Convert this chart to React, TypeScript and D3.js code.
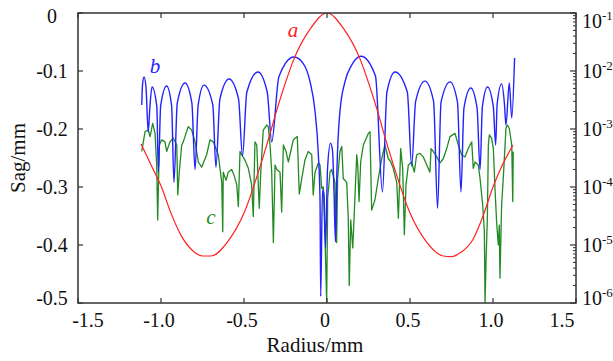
import React from 'react';
import * as d3 from 'd3';

// ---- tick definitions ----
const xTicks = [-1.5, -1, -0.5, 0, 0.5, 1, 1.5];
const xTickLabels = ['-1.5', '-1.0', '-0.5', '0', '0.5', '1.0', '1.5'];
const sagTicks = [0, -0.1, -0.2, -0.3, -0.4, -0.5];
const sagTickLabels = ['0', '-0.1', '-0.2', '-0.3', '-0.4', '-0.5'];
const logTicks = [1e-1, 1e-2, 1e-3, 1e-4, 1e-5, 1e-6];
const logTickExps = ['-1', '-2', '-3', '-4', '-5', '-6'];

// ---- curve a : sag (left axis, mm) ----
const redR = [-1.12, -1.06, -1.0, -0.94, -0.88, -0.8, -0.75, -0.7, -0.6, -0.5, -0.4, -0.35, -0.3, -0.25, -0.2, -0.1, 0, 0.1, 0.2, 0.25, 0.3, 0.35, 0.4, 0.5, 0.6, 0.7, 0.75, 0.8, 0.88, 0.94, 1.0, 1.06, 1.12];
const redSag = [-0.226, -0.262, -0.298, -0.345, -0.383, -0.412, -0.419, -0.419, -0.395, -0.345, -0.262, -0.215, -0.165, -0.12, -0.08, -0.027, 0, -0.027, -0.08, -0.12, -0.165, -0.215, -0.262, -0.345, -0.395, -0.419, -0.42, -0.414, -0.39, -0.35, -0.3, -0.26, -0.228];

// ---- curve b : right (log) axis ----
const blueR = [-1.116, -1.111, -1.102, -1.090, -1.077, -1.067, -1.054, -1.025, -1.016, -1.002, -0.966, -0.936, -0.922, -0.902, -0.855, -0.814, -0.795, -0.776, -0.741, -0.688, -0.669, -0.645, -0.590, -0.533, -0.509, -0.483, -0.416, -0.360, -0.333, -0.290, -0.199, -0.145, -0.102, -0.072, -0.052, -0.042, -0.038, -0.027, -0.018, -0.009, 0.003, 0.021, 0.033, 0.042, 0.051, 0.060, 0.078, 0.108, 0.149, 0.205, 0.292, 0.334, 0.361, 0.410, 0.484, 0.510, 0.534, 0.590, 0.642, 0.666, 0.687, 0.741, 0.786, 0.807, 0.825, 0.866, 0.904, 0.922, 0.936, 0.967, 1.002, 1.016, 1.025, 1.052, 1.069, 1.078, 1.098, 1.113, 1.130];
const blueVal = [2.6e-3, 6.0e-3, 7.9e-3, 5.1e-3, 8.9e-4, 2.4e-3, 5.3e-3, 2.4e-3, 1.8e-4, 2.5e-3, 5.5e-3, 2.5e-3, 1.2e-4, 2.8e-3, 6.2e-3, 2.8e-3, 2.0e-4, 2.6e-3, 5.7e-3, 2.6e-3, 2.2e-4, 3.3e-3, 7.3e-3, 3.3e-3, 3.4e-4, 4.3e-3, 9.6e-3, 4.3e-3, 6.0e-4, 7.9e-3, 1.74e-2, 1.37e-2, 6.5e-3, 2.0e-3, 3.6e-4, 6.0e-5, 1.3e-6, 8.9e-5, 7.3e-5, 8.9e-6, 2.0e-4, 5.7e-4, 4.3e-4, 8.9e-5, 1.13e-5, 2.0e-4, 2.0e-3, 6.5e-3, 1.27e-2, 1.8e-2, 8.2e-3, 8.2e-5, 4.3e-3, 9.6e-3, 4.3e-3, 2.3e-4, 3.0e-3, 6.7e-3, 3.0e-3, 4.3e-5, 2.9e-3, 6.5e-3, 2.9e-3, 8.2e-5, 2.3e-3, 5.1e-3, 2.3e-3, 2.0e-4, 2.4e-3, 5.3e-3, 2.4e-3, 5.3e-4, 2.7e-3, 6.0e-3, 2.7e-3, 1.17e-3, 6.2e-3, 1.55e-3, 1.68e-2];

// ---- curve c : right (log) axis ----
const greenR = [-1.116, -1.096, -1.077, -1.066, -1.050, -1.036, -1.026, -1.020, -1.010, -0.996, -0.976, -0.966, -0.946, -0.926, -0.905, -0.899, -0.890, -0.875, -0.866, -0.836, -0.815, -0.795, -0.775, -0.755, -0.725, -0.705, -0.685, -0.655, -0.634, -0.628, -0.625, -0.608, -0.595, -0.574, -0.560, -0.544, -0.534, -0.524, -0.514, -0.494, -0.474, -0.454, -0.444, -0.434, -0.423, -0.414, -0.408, -0.399, -0.384, -0.363, -0.354, -0.343, -0.333, -0.323, -0.313, -0.303, -0.283, -0.273, -0.263, -0.247, -0.233, -0.223, -0.203, -0.179, -0.167, -0.152, -0.133, -0.113, -0.092, -0.083, -0.072, -0.052, -0.042, -0.032, -0.022, -0.012, -0.002, 0.004, 0.018, 0.028, 0.048, 0.058, 0.064, 0.078, 0.089, 0.098, 0.119, 0.128, 0.134, 0.143, 0.155, 0.163, 0.179, 0.185, 0.193, 0.203, 0.219, 0.249, 0.259, 0.269, 0.289, 0.309, 0.330, 0.349, 0.369, 0.384, 0.399, 0.420, 0.430, 0.444, 0.456, 0.466, 0.476, 0.490, 0.510, 0.526, 0.540, 0.560, 0.580, 0.601, 0.620, 0.627, 0.640, 0.661, 0.681, 0.701, 0.721, 0.741, 0.771, 0.791, 0.811, 0.831, 0.851, 0.872, 0.881, 0.892, 0.911, 0.922, 0.938, 0.948, 0.952, 0.958, 0.966, 0.972, 0.978, 0.992, 1.002, 1.012, 1.022, 1.032, 1.038, 1.042, 1.052, 1.063, 1.078, 1.086, 1.098, 1.113, 1.119, 1.122];
const greenVal = [4.1e-4, 9.0e-4, 9.6e-4, 7.4e-4, 1.25e-3, 8.5e-4, 2.4e-4, 2.7e-5, 5.3e-4, 6.5e-4, 6.0e-4, 4.1e-4, 6.0e-4, 7.0e-4, 5.3e-4, 7.3e-5, 1.8e-4, 5.3e-4, 6.0e-4, 1.10e-3, 9.6e-4, 6.0e-4, 2.7e-4, 2.2e-4, 3.6e-4, 6.5e-4, 6.0e-4, 3.6e-4, 1.2e-4, 1.7e-5, 1.8e-4, 1.3e-4, 1.8e-4, 2.0e-4, 1.6e-4, 1.1e-4, 4.6e-5, 4.1e-4, 3.6e-4, 2.9e-4, 2.1e-4, 1.1e-4, 3.1e-5, 6.0e-4, 5.3e-4, 1.1e-4, 4.3e-5, 1.8e-4, 9.6e-4, 1.17e-3, 1.10e-3, 5.3e-4, 1.8e-4, 1.1e-5, 2.4e-4, 2.0e-4, 1.8e-4, 3.7e-5, 5.3e-4, 4.1e-4, 2.7e-4, 3.6e-4, 6.5e-4, 7.4e-4, 7.6e-5, 1.4e-4, 2.9e-4, 4.1e-4, 3.6e-4, 7.3e-5, 1.8e-4, 2.6e-4, 2.4e-4, 9.5e-5, 1.0e-4, 1.3e-5, 1.04e-6, 6.4e-5, 1.8e-4, 2.0e-4, 1.2e-4, 1.1e-5, 1.4e-4, 4.1e-4, 5.0e-4, 1.4e-4, 1.2e-4, 2.9e-5, 2.0e-6, 2.7e-5, 8.9e-6, 2.9e-5, 3.6e-4, 2.4e-4, 5.6e-5, 2.7e-4, 5.3e-4, 8.4e-4, 9.0e-4, 4.0e-5, 6.0e-5, 1.4e-4, 3.1e-4, 5.3e-4, 3.1e-4, 2.7e-4, 2.1e-4, 1.2e-4, 2.9e-5, 4.6e-4, 2.1e-4, 1.5e-5, 1.1e-4, 2.4e-4, 2.7e-4, 1.8e-4, 3.6e-4, 3.8e-4, 3.3e-4, 2.4e-4, 1.8e-4, 4.6e-4, 4.1e-4, 3.3e-4, 2.6e-4, 3.1e-4, 4.6e-4, 7.4e-4, 8.4e-4, 5.3e-4, 3.6e-4, 3.3e-4, 4.6e-4, 6.0e-4, 2.1e-4, 2.7e-4, 2.4e-4, 1.4e-4, 4.9e-5, 1.7e-5, 1.0e-6, 5.2e-6, 2.9e-5, 5.3e-4, 7.9e-4, 6.9e-4, 4.6e-4, 9.5e-5, 2.4e-5, 1.0e-5, 2.2e-5, 2.7e-6, 4.9e-5, 1.6e-4, 1.03e-3, 1.17e-3, 1.03e-3, 5.3e-4, 5.6e-5, 4.1e-4];

const W = 613;
const H = 361;
const M = { left: 78, right: 576, top: 13, bottom: 303 };
const FONT = "'Liberation Serif', 'DejaVu Serif', serif";
const AXIS = '#333333';
const RED = '#ff2020';
const BLUE = '#2222ff';
const GREEN = '#228a22';
const TXT = { fontFamily: FONT };

export default function App() {
  const x = d3.scaleLinear().domain([-1.5, 1.5]).range([M.left, M.right]);
  const yL = d3.scaleLinear().domain([-0.5, 0]).range([M.bottom, M.top]);
  const yR = d3.scaleLog().domain([1e-6, 1e-1]).range([M.bottom, M.top]);

  const redPts = redR.map((r, i) => [r, redSag[i]] as [number, number]);
  const bluePts = blueR.map((r, i) => [r, blueVal[i]] as [number, number]);
  const greenPts = greenR.map((r, i) => [r, greenVal[i]] as [number, number]);

  const redLine = d3.line<[number, number]>().x(d => x(d[0])).y(d => yL(d[1])).curve(d3.curveMonotoneX);
  const blueLine = d3.line<[number, number]>().x(d => x(d[0])).y(d => yR(d[1])).curve(d3.curveMonotoneX);
  const greenLine = d3.line<[number, number]>().x(d => x(d[0])).y(d => yR(d[1]));

  const minor: number[] = [];
  logTicks.slice(1).forEach(base => {
    for (let k = 2; k <= 9; k++) minor.push(base * k);
  });

  const xLabelShift = (i: number) => (i === 0 ? 10 : i === xTicks.length - 1 ? -14 : -2);

  return (
    <svg width={W} height={H} style={{ position: 'absolute', left: 0, top: 0, background: '#fff', fontFamily: FONT }}>
      <rect x={0} y={0} width={W} height={H} fill="#fff" />
      <defs>
        <clipPath id="plot">
          <rect x={M.left} y={M.top} width={M.right - M.left} height={M.bottom - M.top} />
        </clipPath>
      </defs>

      <g clipPath="url(#plot)" fill="none" strokeLinejoin="round">
        <path d={greenLine(greenPts) || ''} stroke={GREEN} strokeWidth={1.3} />
        <path d={blueLine(bluePts) || ''} stroke={BLUE} strokeWidth={1.4} />
        <path d={redLine(redPts) || ''} stroke={RED} strokeWidth={1.2} />
      </g>

      {/* frame */}
      <rect x={M.left} y={M.top} width={M.right - M.left} height={M.bottom - M.top} fill="none" stroke={AXIS} strokeWidth={1.5} />

      {/* x ticks */}
      {xTicks.map((t, i) => (
        <g key={'x' + i}>
          <line x1={x(t)} x2={x(t)} y1={M.bottom} y2={M.bottom - 5} stroke={AXIS} strokeWidth={1.2} />
          <line x1={x(t)} x2={x(t)} y1={M.top} y2={M.top + 5} stroke={AXIS} strokeWidth={1.2} />
          <text style={TXT} x={x(t) + xLabelShift(i)} y={327} fontSize={20} textAnchor="middle" fill="#111">{xTickLabels[i]}</text>
        </g>
      ))}

      {/* left ticks */}
      {sagTicks.map((t, i) => {
        const yy = yL(t);
        const cy = Math.min(Math.max(yy, 16), 298);
        return (
          <g key={'l' + i}>
            <line x1={M.left} x2={M.left + 5} y1={yy} y2={yy} stroke={AXIS} strokeWidth={1.2} />
            <text style={TXT} x={52} y={cy + 6.6} fontSize={20} textAnchor="middle" fill="#111">{sagTickLabels[i]}</text>
          </g>
        );
      })}

      {/* right ticks */}
      {minor.map((t, i) => (
        <line key={'m' + i} x1={M.right} x2={M.right - 3} y1={yR(t)} y2={yR(t)} stroke={AXIS} strokeWidth={1} />
      ))}
      {logTicks.map((t, i) => {
        const yy = yR(t);
        const cy = Math.min(Math.max(yy, 21.7), 298);
        return (
          <g key={'r' + i}>
            <line x1={M.right} x2={M.right - 6} y1={yy} y2={yy} stroke={AXIS} strokeWidth={1.2} />
            <text style={TXT} x={582} y={cy + 6.6} fontSize={20} fill="#111">
              10<tspan fontSize={13} dy={-8}>{logTickExps[i]}</tspan>
            </text>
          </g>
        );
      })}

      {/* axis titles */}
      <text style={TXT} x={315} y={352} fontSize={21} textAnchor="middle" fill="#111">Radius/mm</text>
      <text style={TXT} transform="translate(25,158) rotate(-90)" fontSize={21} textAnchor="middle" fill="#111">Sag/mm</text>

      {/* curve labels */}
      <text style={TXT} x={293} y={37} fontSize={21} fontStyle="italic" textAnchor="middle" fill={RED}>a</text>
      <text style={TXT} x={155} y={73} fontSize={21} fontStyle="italic" textAnchor="middle" fill={BLUE}>b</text>
      <text style={TXT} x={211} y={224} fontSize={21} fontStyle="italic" textAnchor="middle" fill={GREEN}>c</text>
    </svg>
  );
}
